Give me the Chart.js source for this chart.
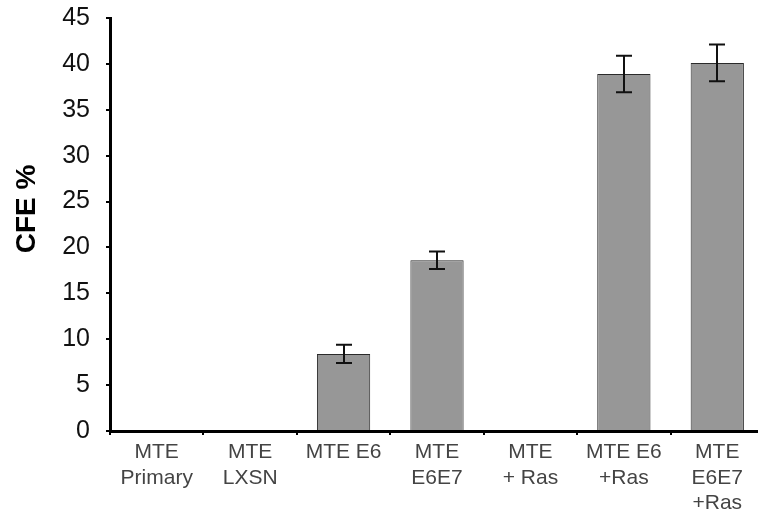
<!DOCTYPE html>
<html>
<head>
<meta charset="utf-8">
<script src="https://cdn.jsdelivr.net/npm/chart.js@4.4.0/dist/chart.umd.min.js"></script>
<style>
    html, body { margin: 0; padding: 0; background: #fff; overflow: hidden; }
    #wrap { width: 766px; height: 514px; }
</style>
</head>
<body>
<div id="wrap"><canvas id="chart1" width="766" height="514"></canvas></div>
<script>
var categories = [
    ['MTE', 'Primary'],
    ['MTE', 'LXSN'],
    'MTE E6',
    ['MTE', 'E6E7'],
    ['MTE', '+ Ras'],
    ['MTE E6', '+Ras'],
    ['MTE', 'E6E7', '+Ras']
];
var cfeValues = [0, 0, 8.4, 18.6, 0, 38.9, 40.1];
var cfeErrors = [0, 0, 1.0, 0.95, 0, 2.0, 2.0];
var yTicks = [0, 5, 10, 15, 20, 25, 30, 35, 40, 45];

// error bars drawn over the bars
var errorBarPlugin = {
    id: 'errorBars',
    afterDatasetsDraw: function (chart) {
        var ctx = chart.ctx;
        var yScale = chart.scales.y;
        var meta = chart.getDatasetMeta(0);
        ctx.save();
        ctx.strokeStyle = '#111';
        ctx.lineWidth = 2;
        meta.data.forEach(function (bar, i) {
            var err = cfeErrors[i];
            if (!err) return;
            var x = Math.round(bar.x);
            var yTop = yScale.getPixelForValue(cfeValues[i] + err);
            var yBot = yScale.getPixelForValue(cfeValues[i] - err);
            ctx.beginPath();
            ctx.moveTo(x, yTop);
            ctx.lineTo(x, yBot);
            ctx.moveTo(x - 8, yTop);
            ctx.lineTo(x + 8, yTop);
            ctx.moveTo(x - 8, yBot);
            ctx.lineTo(x + 8, yBot);
            ctx.stroke();
        });
        ctx.restore();
    }
};

const ctx1 = document.getElementById('chart1');
var myBarChart = new Chart(ctx1, {
    type: 'bar',
    data: {
        labels: categories,
        datasets: [{
            data: cfeValues,
            backgroundColor: '#979797',
            borderColor: '#2a2a2a',
            borderWidth: 1,
            barPercentage: 0.57,
            categoryPercentage: 1
        }]
    },
    options: {
        responsive: false,
        animation: false,
        layout: {
            padding: { left: 10, right: 2, top: 18, bottom: 0 }
        },
        plugins: {
            legend: { display: false },
            tooltip: { enabled: false }
        },
        scales: {
            x: {
                grid: {
                    display: true,
                    drawOnChartArea: false,
                    offset: true,
                    color: '#000',
                    lineWidth: 2,
                    tickLength: 4
                },
                border: { display: true, color: '#000', width: 3 },
                ticks: {
                    color: '#444',
                    maxRotation: 0,
                    autoSkip: false,
                    padding: 5,
                    font: { family: 'Liberation Sans', size: 21, lineHeight: 1.2 }
                },
                afterFit: function (scale) {
                    scale.height = 83;
                    scale.paddingLeft = 0;
                    scale.paddingRight = 0;
                }
            },
            y: {
                min: 0,
                max: 45,
                afterBuildTicks: function (scale) {
                    scale.ticks = yTicks.map(function (v) { return { value: v }; });
                },
                grid: {
                    display: true,
                    drawOnChartArea: false,
                    color: '#000',
                    lineWidth: 2,
                    tickLength: 4
                },
                border: { display: true, color: '#000', width: 3 },
                ticks: {
                    color: '#111',
                    padding: 16,
                    font: { family: 'Liberation Sans', size: 25 }
                },
                title: {
                    display: true,
                    // leading spaces lift the label a little, as in the original
                    text: '    CFE %',
                    color: '#000',
                    padding: { top: 0, bottom: 14 },
                    font: { family: 'Liberation Sans', size: 28, weight: 'bold' }
                },
                afterFit: function (scale) {
                    scale.width = 100;
                    scale.paddingTop = 0;
                    scale.paddingBottom = 0;
                }
            }
        }
    },
    plugins: [errorBarPlugin]
});
</script>
</body>
</html>
